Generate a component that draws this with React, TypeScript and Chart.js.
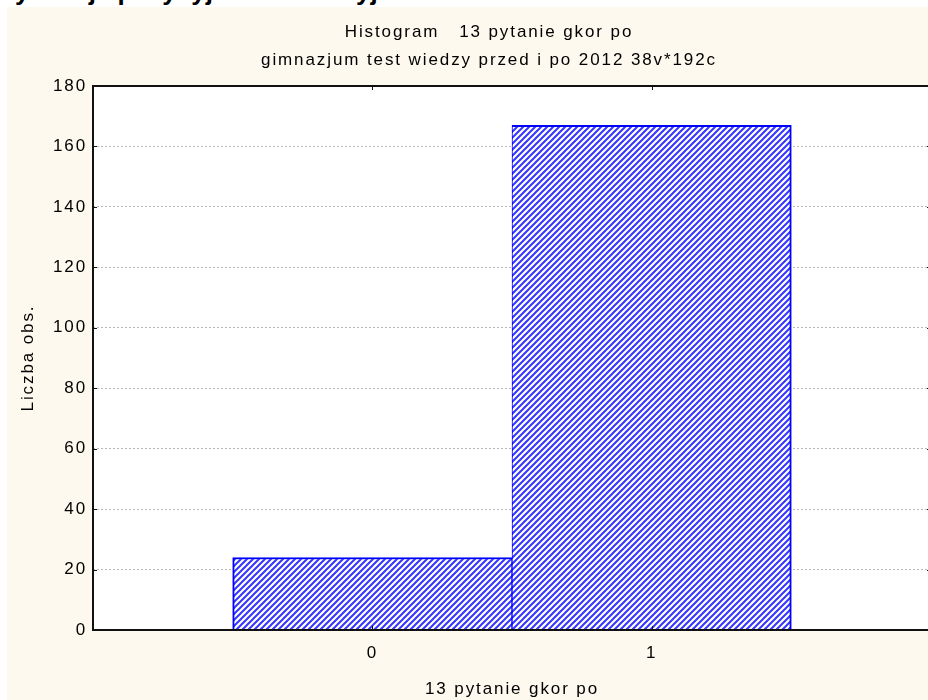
import React, { useEffect, useRef } from 'react';
import { Chart, registerables } from 'chart.js';

Chart.register(...registerables);

// ---- data ----
const headerText = 'Klasyfikacja pozycyjna i korelacyjna';
const titleLines = ['Histogram   13 pytanie gkor po', 'gimnazjum test wiedzy przed i po 2012 38v*192c'];
const xAxisTitle = '13 pytanie gkor po';
const yAxisTitle = 'Liczba obs.';
const binCenters = [0, 1];
const binCounts = [24, 167];
const xTickValues = [0, 1];
const xRange = [-1, 2];
const yRange = [0, 180];
const yStep = 20;

const FONT = "'Liberation Sans', Arial, sans-serif";
const LS = '1.9px';
const CANVAS_W = 964;
const CANVAS_H = 693;

function makeHatch(): CanvasPattern | string {
  const c = document.createElement('canvas');
  c.width = 6;
  c.height = 6;
  const g = c.getContext('2d');
  if (!g) return '#8080ff';
  g.fillStyle = '#ffffff';
  g.fillRect(0, 0, 6, 6);
  g.strokeStyle = '#3535ff';
  g.lineWidth = 2;
  g.beginPath();
  g.moveTo(-1, 7); g.lineTo(7, -1);
  g.moveTo(-1, 1); g.lineTo(1, -1);
  g.moveTo(5, 7); g.lineTo(7, 5);
  g.stroke();
  return g.createPattern(c, 'repeat') || '#8080ff';
}

const spacingPlugin = {
  id: 'letterSpacing',
  beforeUpdate(chart: any) { (chart.ctx as any).letterSpacing = LS; },
  beforeDraw(chart: any) { (chart.ctx as any).letterSpacing = LS; },
};

const plotBgPlugin = {
  id: 'plotBg',
  beforeDraw(chart: any) {
    const { ctx, chartArea } = chart;
    if (!chartArea) return;
    ctx.save();
    ctx.fillStyle = '#ffffff';
    ctx.fillRect(chartArea.left, chartArea.top, chartArea.right - chartArea.left, chartArea.bottom - chartArea.top);
    ctx.restore();
  },
};

const framePlugin = {
  id: 'frame',
  afterDatasetsDraw(chart: any) {
    const { ctx, chartArea, scales } = chart;
    const { left, right, top, bottom } = chartArea;
    const xs = scales.x;
    const ys = scales.y;
    const seg = (x1: number, y1: number, x2: number, y2: number) => {
      ctx.beginPath();
      ctx.moveTo(x1, y1);
      ctx.lineTo(x2, y2);
      ctx.stroke();
    };
    ctx.save();
    ctx.strokeStyle = '#111111';
    ctx.lineWidth = 1;
    ys.ticks.forEach((t: any) => {
      const py = Math.round(ys.getPixelForValue(t.value)) + 0.5;
      seg(left, py, left + 4, py);
      seg(right - 4, py, right, py);
    });
    xs.ticks.forEach((t: any) => {
      const px = Math.round(xs.getPixelForValue(t.value)) + 0.5;
      seg(px, top, px, top + 4);
      seg(px, bottom - 4, px, bottom);
    });
    ctx.lineWidth = 2;
    ctx.strokeRect(left, top, right - left, bottom - top);
    ctx.restore();
  },
};

export default function App() {
  const ref = useRef<HTMLCanvasElement | null>(null);

  useEffect(() => {
    const canvas = ref.current;
    if (!canvas) return;
    const hatch = makeHatch();
    const axisFont = { family: FONT, size: 17, weight: 'normal' as const };
    const chart = new Chart(canvas, {
      type: 'bar',
      data: {
        datasets: [
          {
            data: binCenters.map((x, i) => ({ x, y: binCounts[i] })),
            backgroundColor: hatch as any,
            borderColor: '#0000ff',
            borderWidth: ((c: any) =>
              c.dataIndex === 0
                ? { left: 2, right: 1, top: 2, bottom: 0 }
                : { left: 1, right: 2, top: 2, bottom: 0 }) as any,
            borderSkipped: false,
            barPercentage: 1,
            categoryPercentage: 1,
          } as any,
        ],
      },
      options: {
        animation: false,
        responsive: false,
        devicePixelRatio: 1,
        layout: { padding: 0 },
        plugins: {
          legend: { display: false },
          tooltip: { enabled: false },
          title: {
            display: true,
            text: titleLines,
            color: '#000000',
            font: { family: FONT, size: 17, weight: 'normal', lineHeight: 28.5 / 17 },
            padding: { top: 10.75, bottom: 11.25 },
          },
        },
        scales: {
          x: {
            type: 'linear',
            offset: false,
            min: xRange[0],
            max: xRange[1],
            afterBuildTicks: (s: any) => {
              s.ticks = xTickValues.map((v) => ({ value: v }));
            },
            ticks: {
              color: '#000000',
              font: axisFont,
              padding: 13,
              callback: (v: any) => String(v),
            },
            grid: { display: false, drawTicks: false },
            border: { display: false },
            title: {
              display: true,
              text: xAxisTitle,
              color: '#000000',
              font: axisFont,
              padding: { top: 0, bottom: 0 },
            },
            afterFit: (s: any) => {
              s.height = 70;
            },
          },
          y: {
            type: 'linear',
            min: yRange[0],
            max: yRange[1],
            ticks: {
              stepSize: yStep,
              color: '#000000',
              font: axisFont,
              padding: 6,
            },
            grid: { color: '#b8b8b8', lineWidth: 1, drawTicks: false },
            border: { display: false, dash: [2, 2] },
            title: {
              display: true,
              text: yAxisTitle,
              color: '#000000',
              font: axisFont,
              padding: { top: 11, bottom: 0 },
            },
            afterFit: (s: any) => {
              s.width = 86;
            },
          },
          yRightMargin: {
            type: 'linear',
            position: 'right',
            display: true,
            ticks: { display: false },
            grid: { display: false, drawTicks: false },
            border: { display: false },
            afterFit: (s: any) => {
              s.width = 40;
            },
          },
        },
      } as any,
      plugins: [spacingPlugin, plotBgPlugin, framePlugin],
    });
    return () => chart.destroy();
  }, []);

  return (
    <div
      style={{
        position: 'fixed',
        left: 0,
        top: 0,
        width: 928,
        height: 700,
        overflow: 'hidden',
        background: '#ffffff',
      }}
    >
      <div
        style={{
          position: 'absolute',
          left: -40,
          top: -21,
          font: `bold 26px ${FONT}`,
          lineHeight: '24px',
          whiteSpace: 'nowrap',
          color: '#000',
        }}
      >
        {headerText}
      </div>
      <div
        style={{
          position: 'absolute',
          left: 7,
          top: 7,
          width: CANVAS_W,
          height: CANVAS_H,
          background: '#FDF9EE',
        }}
      >
        <canvas
          ref={ref}
          width={CANVAS_W}
          height={CANVAS_H}
          style={{ display: 'block', width: CANVAS_W, height: CANVAS_H }}
        />
      </div>
    </div>
  );
}
